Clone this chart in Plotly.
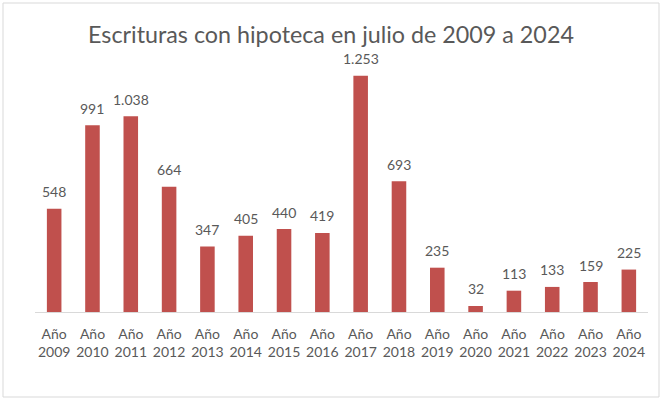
import plotly.graph_objects as go

years = ["2009", "2010", "2011", "2012", "2013", "2014", "2015", "2016",
         "2017", "2018", "2019", "2020", "2021", "2022", "2023", "2024"]
values = [548, 991, 1038, 664, 347, 405, 440, 419, 1253, 693, 235, 32, 113, 133, 159, 225]
labels = ["Año<br>" + y for y in years]
value_text = [f"{v:,}".replace(",", ".") for v in values]

W, H = 662, 400
ml, mr, mt, mb = 35, 14, 48, 88
pw, ph = W - ml - mr, H - mt - mb

fig = go.Figure(go.Bar(
    x=labels, y=values,
    marker=dict(color="#C0504D", line=dict(width=0)),
    hoverinfo="skip",
))

for lab, v, t in zip(labels, values, value_text):
    fig.add_annotation(x=lab, y=v, text=t, showarrow=False,
                       yanchor="middle", yshift=17,
                       font=dict(family="Lato", size=14, color="#595959"))


def px2x(p):
    return (p - ml) / pw


def px2y(p):
    return (H - mb - p) / ph


fig.update_layout(
    width=W, height=H,
    margin=dict(l=ml, r=mr, t=mt, b=mb, autoexpand=False),
    paper_bgcolor="white", plot_bgcolor="white",
    bargap=0.62,
    showlegend=False,
    title=dict(text="Escrituras con hipoteca en julio de 2009 a 2024",
               x=0.5, xanchor="center", xref="container",
               y=1 - 35 / H, yanchor="middle", automargin=False,
               font=dict(family="Lato", size=23.3, color="#595959")),
    xaxis=dict(showline=True, linecolor="#D9D9D9", linewidth=1, ticks="",
               tickfont=dict(family="Lato", size=14, color="#595959"),
               ticklabelstandoff=9, automargin=False,
               showgrid=False, fixedrange=True),
    yaxis=dict(range=[0, 1400], visible=False, showgrid=False,
               fixedrange=True, automargin=False),
    shapes=[dict(type="rect", xref="paper", yref="paper",
                 x0=px2x(3), x1=px2x(659), y0=px2y(397), y1=px2y(3),
                 line=dict(color="#D9D9D9", width=1), layer="above")],
)

fig.write_html("out.html", config={"displayModeBar": False},
               post_script="document.body.style.margin='0';")
